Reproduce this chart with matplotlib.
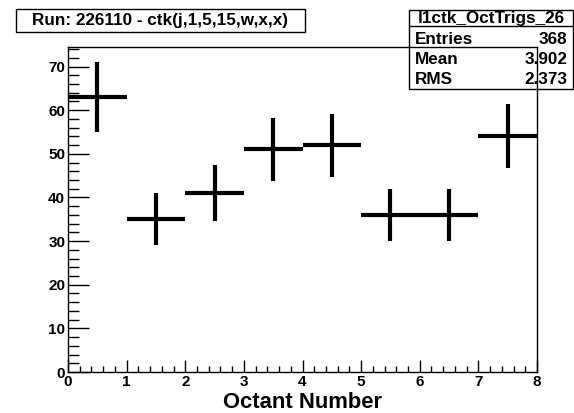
import numpy as np
import matplotlib
matplotlib.use("Agg")
import matplotlib.pyplot as plt
from matplotlib.patches import Rectangle
from matplotlib.ticker import MultipleLocator

# octant trigger counts (one bin per octant)
octant_edges = [0, 1, 2, 3, 4, 5, 6, 7, 8]
octant_counts = [63, 35, 41, 51, 52, 36, 36, 54]

run_title = "Run: 226110 - ctk(j,1,5,15,w,x,x)"
hist_name = "l1ctk_OctTrigs_26"

plt.rcParams.update({
    "font.family": ["Liberation Sans", "DejaVu Sans"],
    "font.weight": "bold",
})

W, H = 574, 413
fig = plt.figure(figsize=(W / 100, H / 100), dpi=100, facecolor="white")
ax = fig.add_axes([68 / W, 1 - 372 / H, (537 - 68) / W, (372 - 47) / H])

edges = np.array(octant_edges, dtype=float)
counts = np.array(octant_counts, dtype=float)
centers = 0.5 * (edges[:-1] + edges[1:])
half = 0.5 * np.diff(edges)
errs = np.sqrt(counts)

ax.errorbar(centers, counts, xerr=half, yerr=errs, fmt="none",
            ecolor="black", elinewidth=3.0, capsize=0)

ax.set_xlim(0, 8)
ax.set_ylim(0, 1.05 * (counts + errs).max())

ax.xaxis.set_major_locator(MultipleLocator(1))
ax.xaxis.set_minor_locator(MultipleLocator(0.2))
ax.yaxis.set_major_locator(MultipleLocator(10))
ax.yaxis.set_minor_locator(MultipleLocator(2))
ax.tick_params(axis="x", which="major", direction="in", length=9, width=1, labelsize=11, pad=2)
ax.tick_params(axis="x", which="minor", direction="in", length=4.5, width=1)
ax.tick_params(axis="y", which="major", direction="in", length=15, width=1, labelsize=11, pad=2)
ax.tick_params(axis="y", which="minor", direction="in", length=8, width=1)
for lab in ax.get_xticklabels() + ax.get_yticklabels():
    lab.set_fontweight("bold")
for sp in ax.spines.values():
    sp.set_linewidth(1)

ax.set_xlabel("Octant Number", fontsize=15.8, fontweight="bold", labelpad=2)

# run title box
tx0, tx1, ty0, ty1 = 16, 305, 9, 32
fig.patches.append(Rectangle((tx0 / W, 1 - ty1 / H), (tx1 - tx0) / W, (ty1 - ty0) / H,
                             transform=fig.transFigure, facecolor="white",
                             edgecolor="black", linewidth=1))
fig.text((tx0 + tx1) / 2 / W, 1 - (ty0 + ty1) / 2 / H, run_title, ha="center", va="center",
         fontsize=12.3, fontweight="bold")

# statistics box
bx0, bx1, by0, by1 = 409, 573, 10, 89
fig.patches.append(Rectangle((bx0 / W, 1 - by1 / H), (bx1 - bx0) / W, (by1 - by0) / H,
                             transform=fig.transFigure, facecolor="none",
                             edgecolor="black", linewidth=1, zorder=5))
fig.add_artist(plt.Line2D([bx0 / W, bx1 / W], [1 - 26 / H, 1 - 26 / H],
                          transform=fig.transFigure, color="black", linewidth=1))
fig.text((bx0 + bx1) / 2 / W, 1 - 18 / H, hist_name, ha="center", va="center",
         fontsize=12.3, fontweight="bold")

mean = np.sum(centers * counts) / counts.sum()
rms = np.sqrt(np.sum(counts * (centers - mean) ** 2) / counts.sum())
stats = [("Entries", "%d" % counts.sum()), ("Mean", "%.3f" % mean), ("RMS", "%.3f" % rms)]
for i, (k, v) in enumerate(stats):
    yy = 1 - (39 + i * 20.5) / H
    fig.text((bx0 + 6) / W, yy, k, ha="left", va="center", fontsize=12.3, fontweight="bold")
    fig.text((bx1 - 6) / W, yy, v, ha="right", va="center", fontsize=12.3, fontweight="bold")

fig.savefig("out.png", dpi=100, facecolor="white")
